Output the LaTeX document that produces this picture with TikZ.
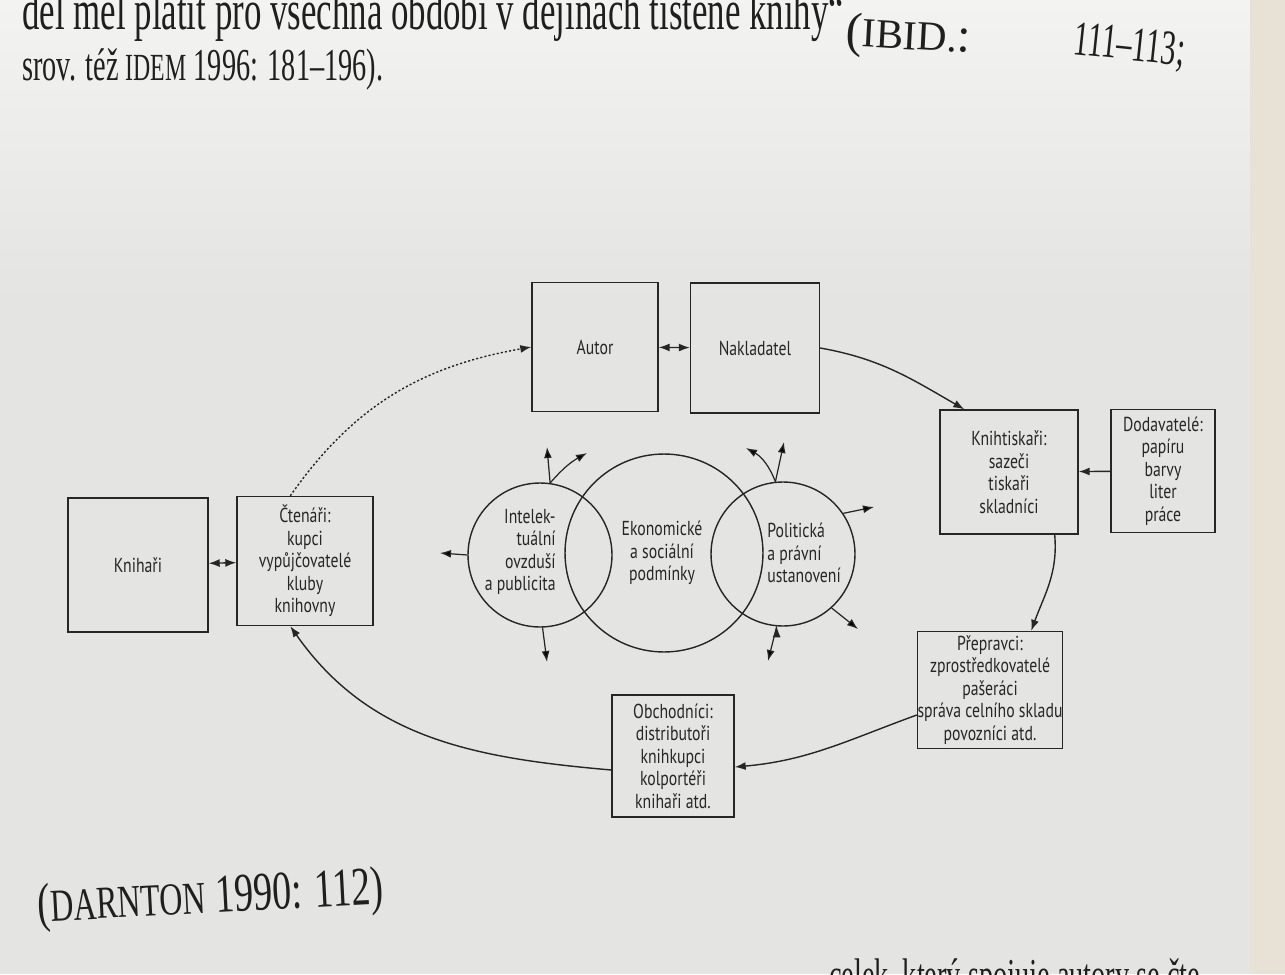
\documentclass[tikz,border=0pt]{standalone}
\usepackage{fontspec}
\setmainfont{Liberation Serif}
\newfontfamily\diafont[FakeStretch=0.78]{PT Sans}
\newfontfamily\pagefont[FakeStretch=0.62]{Liberation Serif}
\newfontfamily\capfont[FakeStretch=0.7]{Liberation Serif}
\newfontfamily\widefont[FakeStretch=1.0]{Liberation Serif}
\usetikzlibrary{arrows.meta}
\definecolor{ink}{RGB}{38,38,38}
\definecolor{paper}{RGB}{228,228,226}
\definecolor{paperlight}{RGB}{243,243,241}
\definecolor{pageedge}{RGB}{232,226,214}
\newcommand\kap[1]{\scalebox{0.84}{#1}}

\begin{document}
\begin{tikzpicture}[
    x=0.02cm, y=-0.02cm,
    >={Latex[length=2.2mm,width=1.6mm]},
    box/.style={draw=ink, line width=0.8pt, align=center, inner sep=0pt, text=ink,
      font=\diafont\fontsize{11.5}{12.8}\selectfont},
    kruh/.style={circle, draw=ink, line width=0.8pt, inner sep=0pt},
    popis/.style={inner sep=0pt, text=ink, font=\diafont\fontsize{11.5}{12.8}\selectfont},
    tok/.style={draw=ink, line width=0.8pt},
    vliv/.style={draw=ink, line width=0.7pt, ->},
    radek/.style={inner sep=0pt, anchor=base west, text=black!88,
      font=\pagefont\fontsize{26}{30}\selectfont}
  ]
  \useasboundingbox (0,0) rectangle (1285,974);
  \clip (0,0) rectangle (1285,974);
  % papir
  \shade[top color=paperlight, bottom color=paper] (0,0) rectangle (1285,300);
  \fill[paper] (0,299) rectangle (1285,974);
  \fill[pageedge] (1250,0) rectangle (1285,974);

  % text stranky
  \node[radek, font=\pagefont\fontsize{32}{34}\selectfont] (r1) at (22,29) {del měl platit pro všechna období v dějinách tištěné knihy“};
  \node[radek, rotate=-3, font=\widefont\fontsize{28}{30}\selectfont] (r1b) at (845,46) {(\kap{IBID.}:};
  \node[radek, rotate=-6, font=\pagefont\fontsize{28}{34}\selectfont] (r1c) at (1072,54) {111–113;};
  \node[radek] (r2) at (22,80) {srov. též \kap{IDEM} 1996: 181–196).};
  \node[radek, rotate=3, font=\capfont\fontsize{31}{34}\selectfont] (zdroj) at (38,922) {(\kap{DARNTON} 1990: 112)};
  \node[radek, anchor=base east] (r3) at (1210,990) {celek, který spojuje autory se čte-};

  % okruh knihy
  \node[box, minimum width=2.52cm, minimum height=2.58cm] (autor) at (595,347) {Autor};
  \node[box, minimum width=2.58cm, minimum height=2.6cm] (nakl) at (755,348) {Nakladatel};
  \node[box, minimum width=2.76cm, minimum height=2.48cm] (tisk) at (1009,472) {Knihtiskaři:\\sazeči\\tiskaři\\skladníci};
  \node[box, minimum width=2.08cm, minimum height=2.46cm] (dod) at (1163,471) {Dodavatelé:\\papíru\\barvy\\liter\\práce};
  \node[box, minimum width=2.74cm, minimum height=2.34cm] (prep) at (990,690) {Přepravci:\\zprostředkovatelé\\pašeráci\\správa celního skladu\\povozníci atd.};
  \node[box, minimum width=2.44cm, minimum height=2.44cm] (obch) at (673,756) {Obchodníci:\\distributoři\\knihkupci\\kolportéři\\knihaři atd.};
  \node[box, minimum width=2.72cm, minimum height=2.58cm] (cten) at (305,561) {Čtenáři:\\kupci\\vypůjčovatelé\\kluby\\knihovny};
  \node[box, minimum width=2.8cm, minimum height=2.68cm] (knihar) at (138,565) {Knihaři};

  \draw[tok, <->] (autor) -- (nakl);
  \draw[tok, <->] (knihar) -- (cten);
  \draw[tok, ->] (dod) -- (tisk);
  \draw[tok, ->] (nakl.east) to[out=-10, in=150] ([xshift=0.5cm]tisk.north west);
  \draw[tok, ->] ([xshift=-0.48cm]tisk.south east) to[out=-85, in=70] ([xshift=-0.64cm]prep.north east);
  \draw[tok, ->] ([yshift=-0.5cm]prep.west) to[out=200, in=5] ([yshift=-0.22cm]obch.east);
  \draw[tok, ->] ([yshift=-0.28cm]obch.west) to[out=175, in=-55] ([xshift=1.08cm]cten.south west);
  \draw[tok, ->, dash pattern=on 1.2pt off 1.2pt] ([xshift=1.08cm]cten.north west) to[out=55, in=190] (autor.west);

  % podminky
  \node[kruh, minimum size=2.88cm] (intel) at (540,555) {};
  \node[kruh, minimum size=3.96cm] (ekon) at (664,553) {};
  \node[kruh, minimum size=2.88cm] (polit) at (783,554) {};
  \node[popis, align=right, anchor=east] (tIntel) at (556,552) {Intelek-\\tuální\\ovzduší\\a publicita};
  \node[popis, align=center] (tEkon) at (662,553) {Ekonomické\\a sociální\\podmínky};
  \node[popis, align=left, anchor=west] (tPolit) at (767,553) {Politická\\a právní\\ustanovení};

  \coordinate (i1) at (440,553);
  \coordinate (i2) at (547,447);
  \coordinate (i3) at (587,453);
  \coordinate (i4) at (547,662);
  \coordinate (p1) at (746,448);
  \coordinate (p2) at (784,442);
  \coordinate (p3) at (874,507);
  \coordinate (p4) at (858,629);
  \coordinate (p5) at (768,661);
  \path[vliv]
    (intel.180) edge (i1)
    (intel.82) edge (i2)
    (intel.82) edge[bend left=10] (i3)
    (intel.-88) edge (i4)
    (polit.96) edge[bend right=20] (p1)
    (polit.96) edge (p2)
    (polit.34) edge (p3)
    (polit.-48) edge (p4)
    (polit.-95) edge (p5);
\end{tikzpicture}
\end{document}
